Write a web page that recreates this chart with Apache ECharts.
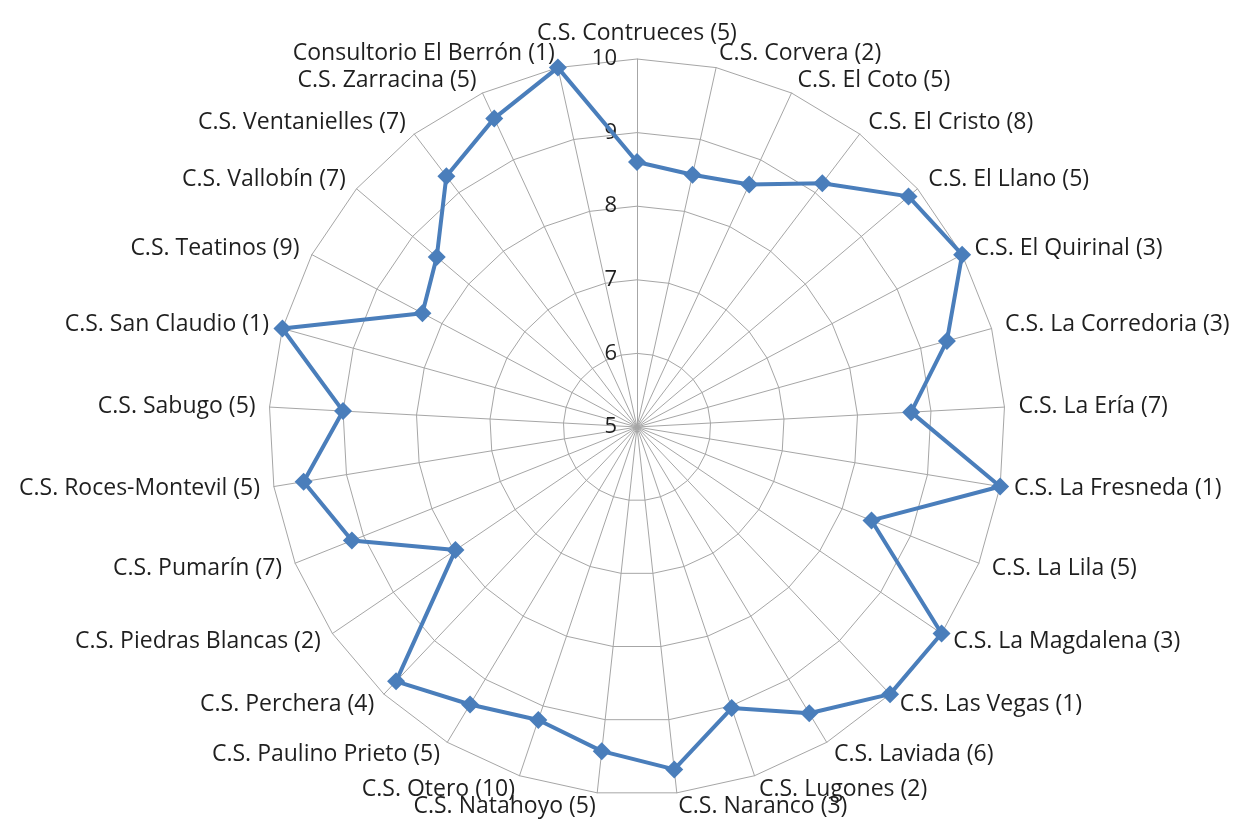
<!DOCTYPE html>
<html>
<head>
<meta charset="utf-8">
<script src="https://cdn.jsdelivr.net/npm/echarts@6/dist/echarts.min.js"></script>
<style>
html,body{margin:0;padding:0;background:#fff;}
#chart{width:1247px;height:822px;}
</style>
</head>
<body>
<div id="chart"></div>
<script>
const categories = [
  'C.S. Contrueces (5)', 'C.S. Corvera (2)', 'C.S. El Coto (5)', 'C.S. El Cristo (8)',
  'C.S. El Llano (5)', 'C.S. El Quirinal (3)', 'C.S. La Corredoria (3)', 'C.S. La Ería (7)',
  'C.S. La Fresneda (1)', 'C.S. La Lila (5)', 'C.S. La Magdalena (3)', 'C.S. Las Vegas (1)',
  'C.S. Laviada (6)', 'C.S. Lugones (2)', 'C.S. Naranco (3)', 'C.S. Natahoyo (5)',
  'C.S. Otero (10)', 'C.S. Paulino Prieto (5)', 'C.S. Perchera (4)', 'C.S. Piedras Blancas (2)',
  'C.S. Pumarín (7)', 'C.S. Roces-Montevil (5)', 'C.S. Sabugo (5)', 'C.S. San Claudio (1)',
  'C.S. Teatinos (9)', 'C.S. Vallobín (7)', 'C.S. Ventanielles (7)', 'C.S. Zarracina (5)',
  'Consultorio El Berrón (1)'
];
const values = [
  8.6, 8.51, 8.63, 9.16,
  9.84, 10, 9.37, 8.73,
  10, 8.43, 10, 10,
  9.54, 9.03, 9.68, 9.43,
  9.2, 9.4, 9.76, 7.98,
  9.17, 9.59, 9.0, 10,
  8.3, 8.57, 9.28, 9.62,
  10
];
const axisMin = 5;
const axisMax = 10;

// ECharts radar goes counter-clockwise; reorder so the categories run clockwise.
const order = [0];
for (let i = categories.length - 1; i >= 1; i--) order.push(i);

const indicators = order.map((idx, k) => {
  const ind = { name: categories[idx], min: axisMin, max: axisMax };
  if (k !== 0) ind.axisLabel = { show: false };
  return ind;
});
const seriesData = order.map(idx => values[idx]);

const chart = echarts.init(document.getElementById('chart'));
chart.setOption({
  backgroundColor: '#ffffff',
  animation: false,
  radar: {
    center: [637, 427],
    radius: 368,
    startAngle: 90,
    splitNumber: 5,
    shape: 'polygon',
    indicator: indicators,
    nameGap: 14,
    axisName: {
      color: '#1f1f1f',
      fontFamily: 'Open Sans',
      fontSize: 23
    },
    axisLine: { show: true, lineStyle: { color: '#a6a6a6', width: 1 } },
    splitLine: { show: true, lineStyle: { color: '#a6a6a6', width: 1 } },
    splitArea: { show: false },
    axisTick: { show: false },
    axisLabel: {
      show: true,
      color: '#1f1f1f',
      fontFamily: 'Open Sans',
      fontSize: 22,
      margin: 20,
      showMinLabel: true
    }
  },
  series: [{
    type: 'radar',
    symbol: 'diamond',
    symbolSize: 18,
    lineStyle: { color: '#4a7ebb', width: 4 },
    itemStyle: { color: '#4a7ebb' },
    data: [{ value: seriesData }]
  }]
});
</script>
</body>
</html>
